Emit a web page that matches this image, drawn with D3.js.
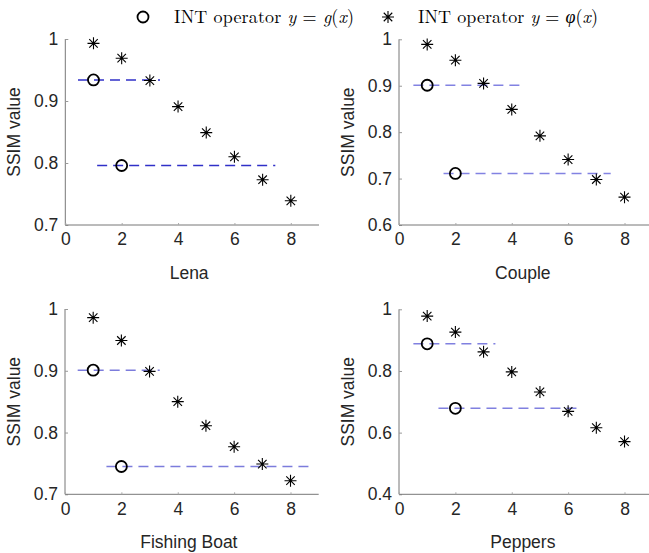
<!DOCTYPE html>
<html>
<head>
<meta charset="utf-8">
<script src="https://cdn.jsdelivr.net/npm/d3@7"></script>
<style>
  body { margin: 0; background: #fff; }
  svg { display: block; }
</style>
</head>
<body>
<svg width="649" height="553"></svg>
<script>

// datos
let names = ["Lena", "Couple", "Fishing Boat", "Peppers"];
let xs = [1, 2, 3, 4, 5, 6, 7, 8];
let phiLena    = [0.993, 0.969, 0.933, 0.891, 0.849, 0.810, 0.773, 0.739];
let phiCouple  = [0.989, 0.955, 0.905, 0.849, 0.792, 0.741, 0.698, 0.660];
let phiBoat    = [0.986, 0.949, 0.899, 0.850, 0.811, 0.777, 0.749, 0.722];
let phiPeppers = [0.978, 0.926, 0.862, 0.797, 0.732, 0.669, 0.616, 0.571];
let gxs = [1, 2];
let gLena    = [0.934, 0.796];
let gCouple  = [0.901, 0.711];
let gBoat    = [0.901, 0.745];
let gPeppers = [0.888, 0.679];
// extension horizontal de las lineas discontinuas
let spanLena    = [[0.45, 3.36], [1.13, 7.45]];
let spanCouple  = [[0.51, 4.42], [1.58, 7.51]];
let spanBoat    = [[0.45, 3.36], [1.47, 8.8]];
let spanPeppers = [[0.51, 3.42], [1.40, 6.5]];
let xTicks = [0, 2, 4, 6, 8];
let yTicksLena    = [0.7, 0.8, 0.9, 1];
let yTicksCouple  = [0.6, 0.7, 0.8, 0.9, 1];
let yTicksBoat    = [0.7, 0.8, 0.9, 1];
let yTicksPeppers = [0.4, 0.6, 0.8, 1];

let phis  = [phiLena, phiCouple, phiBoat, phiPeppers];
let gs    = [gLena, gCouple, gBoat, gPeppers];
let spans = [spanLena, spanCouple, spanBoat, spanPeppers];
let yTicks = [yTicksLena, yTicksCouple, yTicksBoat, yTicksPeppers];

let svg = d3.select('svg');

// posicion de cada eje
let boxes = [
    {left: 65.3, top: 39,   bottom: 225},
    {left: 399,  top: 39.3, bottom: 225},
    {left: 65,   top: 309,  bottom: 494.3},
    {left: 399,  top: 309.3, bottom: 494.3}
];
let axW = 253.7;
let dashColors = ['#3030c8', '#8282e2', '#7c7cdc', '#8080e0'];
let fontSans = 'Arial, "Liberation Sans", Helvetica, sans-serif';
let axisColor = '#262626';

function star(g, cx, cy, r) {
    let d = r * Math.SQRT1_2;
    let path = 'M' + (cx - r) + ',' + cy + 'H' + (cx + r) +
        'M' + cx + ',' + (cy - r) + 'V' + (cy + r) +
        'M' + (cx - d) + ',' + (cy - d) + 'L' + (cx + d) + ',' + (cy + d) +
        'M' + (cx - d) + ',' + (cy + d) + 'L' + (cx + d) + ',' + (cy - d);
    g.append('path')
        .attr('d', path)
        .attr('stroke', '#000')
        .attr('stroke-width', 1.1)
        .attr('fill', 'none');
}

names.forEach(function (name, i) {
    let b = boxes[i];
    let yt = yTicks[i];

    let x = d3.scaleLinear()
        .domain([0, 9])
        .range([b.left, b.left + axW]);
    let y = d3.scaleLinear()
        .domain([yt[0], yt[yt.length - 1]])
        .range([b.bottom, b.top]);

    let g = svg.append('g');

    // eje y
    let yAxis = g.append('g')
        .attr('transform', 'translate(' + b.left + ',0)')
        .call(d3.axisLeft(y).tickValues(yt).tickSize(-3).tickPadding(7)
            .tickFormat(d3.format('~g')));
    yAxis.select('.domain').attr('stroke', '#777').attr('d', 'M0,' + b.top + 'V' + b.bottom);
    yAxis.selectAll('.tick line').attr('stroke', '#999');
    yAxis.selectAll('text')
        .attr('font-family', fontSans)
        .attr('font-size', 17.5)
        .attr('fill', axisColor);

    // eje x
    let xAxis = g.append('g')
        .attr('transform', 'translate(0,' + b.bottom + ')')
        .call(d3.axisBottom(x).tickValues(xTicks).tickSize(-2).tickPadding(8));
    xAxis.select('.domain').attr('stroke', '#777').attr('d', 'M' + b.left + ',0H' + (b.left + axW));
    xAxis.selectAll('.tick line').attr('stroke', '#aaa');
    xAxis.selectAll('text')
        .attr('font-family', fontSans)
        .attr('font-size', 17.5)
        .attr('fill', axisColor);

    // etiquetas
    g.append('text')
        .attr('x', x(4.5) - 3)
        .attr('y', b.bottom + 54)
        .attr('text-anchor', 'middle')
        .attr('font-family', fontSans)
        .attr('font-size', 17.5)
        .attr('fill', axisColor)
        .text(name);

    g.append('text')
        .attr('transform', 'translate(' + (b.left - 45) + ',' + ((b.top + b.bottom) / 2) + ') rotate(-90)')
        .attr('text-anchor', 'middle')
        .attr('font-family', fontSans)
        .attr('font-size', 17.5)
        .attr('fill', axisColor)
        .text('SSIM value');

    // lineas discontinuas
    g.append('g')
        .selectAll('line')
        .data(spans[i])
        .enter().append('line')
        .attr('x1', d => x(d[0]))
        .attr('x2', d => x(d[1]))
        .attr('y1', (d, j) => y(gs[i][j]))
        .attr('y2', (d, j) => y(gs[i][j]))
        .attr('stroke', dashColors[i])
        .attr('stroke-width', 1.5)
        .attr('stroke-dasharray', '10,6');

    // circulos
    g.append('g')
        .selectAll('circle')
        .data(gs[i])
        .enter().append('circle')
        .attr('cx', (d, j) => x(gxs[j]))
        .attr('cy', d => y(d))
        .attr('r', 5.5)
        .attr('fill', 'none')
        .attr('stroke', '#000')
        .attr('stroke-width', 1.8);

    // asteriscos
    let sg = g.append('g');
    phis[i].forEach(function (v, j) {
        star(sg, x(xs[j]), y(v), 6);
    });
});

// leyenda
let leg = svg.append('g');
let fontSerif = '"Latin Modern Roman", "CMU Serif", "Liberation Serif", "DejaVu Serif", serif';

leg.append('circle')
    .attr('cx', 143)
    .attr('cy', 17)
    .attr('r', 5.5)
    .attr('fill', 'none')
    .attr('stroke', '#000')
    .attr('stroke-width', 1.8);
star(leg, 388, 17, 6);

function legendText(xPos, fn) {
    let t = leg.append('text')
        .attr('x', xPos)
        .attr('y', 23)
        .attr('font-family', fontSerif)
        .attr('font-size', 18)
        .attr('fill', '#000')
        .attr('textLength', 180)
        .attr('lengthAdjust', 'spacing');
    t.append('tspan').text('INT operator ');
    t.append('tspan').attr('font-style', 'italic').text('y');
    t.append('tspan').text(' = ');
    t.append('tspan').attr('font-style', 'italic').text(fn);
    t.append('tspan').text('(');
    t.append('tspan').attr('font-style', 'italic').text('x');
    t.append('tspan').text(')');
}
legendText(174, 'g');
legendText(418, 'φ');

</script>
</body>
</html>
